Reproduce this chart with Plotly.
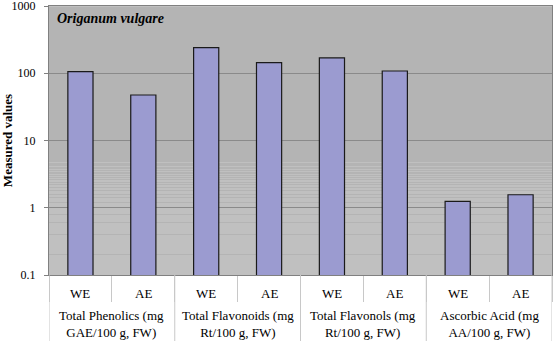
import plotly.graph_objects as go

groups = ["Total Phenolics (mg<br>GAE/100 g, FW)", "Total Flavonoids (mg<br>Rt/100 g, FW)",
          "Total Flavonols (mg<br>Rt/100 g, FW)", "Ascorbic Acid (mg<br>AA/100 g, FW)"]
extracts = ["WE", "AE"]
values = [106, 47.5, 241, 144, 169, 108, 1.24, 1.56]
y_ticks = [0.1, 1, 10, 100, 1000]
y_ticktext = ["0.1", "1", "10", "100", "1000"]

FONT = "Liberation Serif"
cats = [f"{gi}-{e}" for gi in range(len(groups)) for e in extracts]
n_e = len(extracts)

fig = go.Figure(go.Bar(
    x=cats, y=values,
    marker=dict(color="#9b9bd0", line=dict(color="#1a1a1a", width=1.2)),
    width=0.4,
))

ann = [dict(text="<b><i>Origanum vulgare</i></b>", xref="paper", yref="paper",
            x=0.012, y=0.99, xanchor="left", yanchor="top", showarrow=False,
            font=dict(family=FONT, size=14))]
for i, c in enumerate(cats):
    ann.append(dict(text=extracts[i % n_e], xref="x", yref="paper", x=c, y=-0.0706,
                    showarrow=False, yanchor="middle", font=dict(family=FONT, size=13)))
for gi, g in enumerate(groups):
    ann.append(dict(text=g, xref="x", yref="paper", x=gi * n_e + (n_e - 1) / 2, y=-0.183,
                    showarrow=False, yanchor="middle", font=dict(family=FONT, size=13)))
shapes = []
for b in range(len(groups) + 1):
    xb = b * n_e - 0.5
    shapes.append(dict(type="line", xref="x", yref="paper", x0=xb, x1=xb, y0=0, y1=-0.26,
                       line=dict(color="#c8c8c8", width=1)))

fig.update_layout(
    width=553, height=341,
    margin=dict(l=49, r=1, t=6, b=66, autoexpand=False),
    paper_bgcolor="white", plot_bgcolor="#c0c0c0",
    font=dict(family=FONT, size=13, color="black"),
    showlegend=False, annotations=ann, shapes=shapes,
)
fig.update_yaxes(
    type="log", range=[-1, 3], automargin=False,
    tickvals=y_ticks, ticktext=y_ticktext,
    showgrid=True, gridcolor="#8a8a8a", gridwidth=1,
    minor=dict(showgrid=True, gridcolor="#b4b4b4", gridwidth=1),
    ticks="outside", ticklen=4, tickcolor="#808080", ticklabelstandoff=6,
    showline=True, linecolor="#808080", mirror=True,
    title=dict(text="<b>Measured values</b>", font=dict(family=FONT, size=13), standoff=3),
    zeroline=False, tickfont=dict(family=FONT, size=12), ticklabeloverflow="allow",
)
fig.update_xaxes(
    type="category", range=[-0.5, len(cats) - 0.5], showgrid=False, showticklabels=False,
    tickson="boundaries", ticks="outside", ticklen=26, tickcolor="#c8c8c8",
    showline=True, linecolor="#808080", mirror=True, automargin=False,
)

fig.write_html("out.html")
